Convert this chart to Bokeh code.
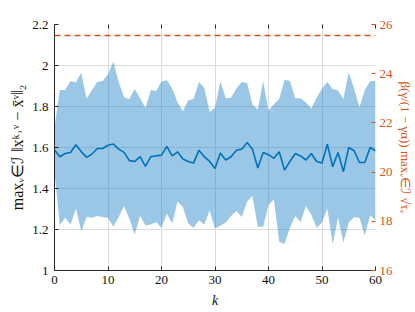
from bokeh.plotting import figure
from bokeh.models import Range1d, LinearAxis, Span, FixedTicker
from bokeh.embed import file_html
from bokeh.resources import INLINE

k = list(range(61))
mean_dev = [1.588, 1.555, 1.571, 1.576, 1.613, 1.580, 1.552, 1.568, 1.595, 1.595,
            1.611, 1.617, 1.592, 1.576, 1.536, 1.532, 1.555, 1.508, 1.556, 1.559,
            1.563, 1.605, 1.559, 1.579, 1.544, 1.532, 1.524, 1.587, 1.555, 1.532,
            1.498, 1.573, 1.539, 1.555, 1.587, 1.592, 1.624, 1.592, 1.500, 1.576,
            1.565, 1.547, 1.579, 1.490, 1.532, 1.571, 1.559, 1.539, 1.571, 1.532,
            1.524, 1.616, 1.506, 1.576, 1.482, 1.600, 1.584, 1.527, 1.527, 1.600,
            1.584]
upper_dev = [1.700, 1.880, 1.880, 1.925, 1.917, 1.965, 1.838, 1.880, 1.920, 1.925,
             1.957, 2.018, 1.920, 1.845, 1.837, 1.885, 1.840, 1.793, 1.880, 1.876,
             1.922, 1.928, 1.888, 1.820, 1.777, 1.830, 1.837, 1.920, 1.890, 1.773,
             1.793, 1.923, 1.840, 1.843, 1.888, 1.920, 1.915, 1.810, 1.785, 1.923,
             1.780, 1.810, 1.837, 1.930, 1.925, 1.840, 1.840, 1.820, 1.790, 1.843,
             1.888, 1.920, 1.885, 1.878, 1.837, 1.967, 1.888, 1.795, 1.880, 1.923,
             1.926]
lower_dev = [1.480, 1.221, 1.257, 1.224, 1.302, 1.192, 1.261, 1.257, 1.266, 1.261,
             1.257, 1.213, 1.261, 1.313, 1.253, 1.176, 1.266, 1.221, 1.224, 1.237,
             1.208, 1.277, 1.229, 1.337, 1.310, 1.229, 1.208, 1.245, 1.224, 1.293,
             1.205, 1.218, 1.234, 1.266, 1.290, 1.261, 1.337, 1.363, 1.213, 1.213,
             1.320, 1.347, 1.141, 1.129, 1.208, 1.266, 1.237, 1.315, 1.273, 1.208,
             1.234, 1.302, 1.128, 1.257, 1.136, 1.234, 1.261, 1.257, 1.172, 1.270,
             1.245]
bound = 25.55

x_ticks = [0, 10, 20, 30, 40, 50, 60]
left_ticks = [1, 1.2, 1.4, 1.6, 1.8, 2, 2.2]
right_ticks = [16, 18, 20, 22, 24, 26]
right_label = "β(γ/(1 − γα)) maxᵥ∈ℐ √τᵥ"

BLUE = "#0072BD"
ORANGE = "#D95319"
AX = "#262626"
FONT = "Liberation Serif"

p = figure(width=415, height=310, output_backend="svg", toolbar_location=None,
           x_range=Range1d(0, 60), y_range=Range1d(1, 2.2),
           min_border_left=54, min_border_top=24, min_border_bottom=38,
           min_border_right=39)
p.extra_y_ranges = {"right": Range1d(16, 26)}
p.outline_line_color = None
p.background_fill_color = "white"

p.varea(x=k, y1=lower_dev, y2=upper_dev, fill_color=BLUE, fill_alpha=0.4)
p.line(k, mean_dev, line_color=BLUE, line_width=1.6)
p.add_layout(Span(location=bound, dimension="width", y_range_name="right",
                  line_color=ORANGE, line_width=1.5, line_dash="6 4"))

p.xaxis.ticker = FixedTicker(ticks=x_ticks)
p.yaxis.ticker = FixedTicker(ticks=left_ticks)
p.xgrid.ticker = FixedTicker(ticks=x_ticks)
p.ygrid.ticker = FixedTicker(ticks=left_ticks)
p.grid.grid_line_color = "#dcdcdc"
p.grid.grid_line_width = 1

for ax in (p.xaxis[0], p.yaxis[0]):
    ax.axis_line_color = AX
    ax.major_tick_line_color = AX
    ax.major_tick_in = 4
    ax.major_tick_out = 0
    ax.minor_tick_line_color = None
    ax.major_label_text_font = FONT
    ax.major_label_text_font_size = "13px"
    ax.major_label_text_color = "#111111"
    ax.axis_label_text_font = FONT
    ax.axis_label_text_font_style = "normal"
    ax.axis_label_text_color = "#111111"

p.xaxis.axis_label = "k"
p.xaxis.axis_label_text_font_style = "italic"
p.xaxis.axis_label_text_font_size = "14px"
p.xaxis.axis_label_standoff = 6
p.xaxis.major_label_standoff = 5
p.yaxis.axis_label = "maxᵥ∈ℐ ‖xᵏ˒ᵛ − x̄ᵛ‖₂"
p.yaxis.axis_label_text_font_size = "16px"
p.yaxis.axis_label_standoff = 3
p.yaxis.major_label_standoff = 6

top = LinearAxis(ticker=FixedTicker(ticks=x_ticks), axis_line_color=None,
                 major_tick_line_color=AX, major_tick_in=4, major_tick_out=0,
                 minor_tick_line_color=None,
                 major_label_overrides={t: "" for t in x_ticks})
p.add_layout(top, "above")

right = LinearAxis(y_range_name="right", ticker=FixedTicker(ticks=right_ticks),
                   axis_line_color=None, major_tick_line_color=ORANGE,
                   major_tick_in=4, major_tick_out=0, minor_tick_line_color=None,
                   major_label_text_color=ORANGE, major_label_text_font=FONT,
                   major_label_text_font_size="13px", major_label_standoff=4,
                   axis_label=right_label,
                   axis_label_text_color=ORANGE, axis_label_text_font=FONT,
                   axis_label_text_font_style="normal",
                   axis_label_text_font_size="13px", axis_label_standoff=2)
p.add_layout(right, "right")

open("out.html", "w").write(file_html(p, INLINE))
